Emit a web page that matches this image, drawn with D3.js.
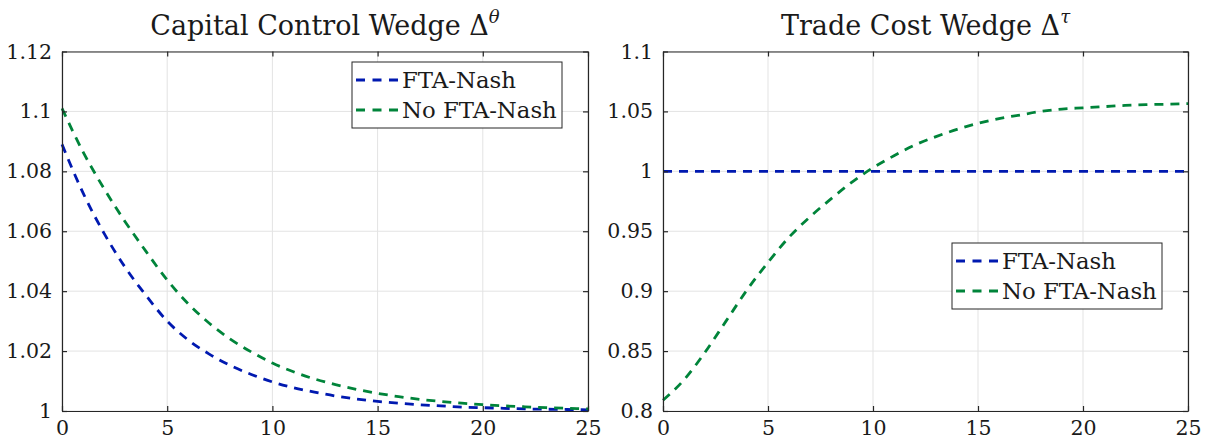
<!DOCTYPE html>
<html>
<head>
<meta charset="utf-8">
<script src="https://cdn.jsdelivr.net/npm/d3@7"></script>
<style>
  body { margin: 0; background: #fff; }
  svg text { font-family: "DejaVu Serif", serif; fill: #1a1a1a; }
</style>
</head>
<body>
<svg id="chart" width="1214" height="446"></svg>
<script>
// periods 0..25
var periods = d3.range(0, 26);

// capital control wedge
var capFta = [1.089, 1.0728, 1.0593, 1.048, 1.0385, 1.0300, 1.0237, 1.019, 1.0152, 1.0122,
    1.0097, 1.0078, 1.0063, 1.005, 1.004, 1.0032, 1.0026, 1.0021, 1.0017, 1.0013,
    1.0011, 1.0009, 1.0007, 1.0006, 1.0005, 1.0004];
var capNoFta = [1.101, 1.0865, 1.0742, 1.0632, 1.0532, 1.0437, 1.0358, 1.0293, 1.024, 1.0197,
    1.016, 1.0131, 1.0107, 1.0088, 1.0072, 1.0059, 1.0048, 1.0039, 1.0032, 1.0026,
    1.0021, 1.0017, 1.0014, 1.0011, 1.0009, 1.0007];

// trade cost wedge
var tradeFta = [1, 1, 1, 1, 1, 1, 1, 1, 1, 1, 1, 1, 1, 1, 1, 1, 1, 1, 1, 1, 1, 1, 1, 1, 1, 1];
var tradeNoFta = [0.809, 0.826, 0.849, 0.875, 0.901, 0.924, 0.945, 0.962, 0.977, 0.991,
    1.003, 1.013, 1.022, 1.029, 1.035, 1.040, 1.044, 1.047, 1.050, 1.052,
    1.053, 1.054, 1.055, 1.0557, 1.056, 1.0565];

var xTicks = [0, 5, 10, 15, 20, 25];
var capTicks = [1, 1.02, 1.04, 1.06, 1.08, 1.1, 1.12];
var tradeTicks = [0.8, 0.85, 0.9, 0.95, 1, 1.05, 1.1];
var seriesNames = ["FTA-Nash", "No FTA-Nash"];
var seriesColors = ["#0019b0", "#00843a"];

var svg = d3.select( "#chart" );

function panel( opts ) {
    var g = svg.append( "g" );
    var x = d3.scaleLinear().domain( [0, 25] ).range( [opts.left, opts.right] );
    var y = d3.scaleLinear().domain( opts.yDomain ).range( [opts.bottom, opts.top] );
    var fmt = function ( d ) { return String( +d.toFixed( 2 ) ); };

    // grid
    g.append( "g" ).selectAll( "line" ).data( xTicks ).enter().append( "line" )
        .attr( "x1", x ).attr( "x2", x ).attr( "y1", opts.top ).attr( "y2", opts.bottom )
        .attr( "stroke", "#e3e3e3" ).attr( "stroke-width", 1 );
    g.append( "g" ).selectAll( "line" ).data( opts.yTicks ).enter().append( "line" )
        .attr( "y1", y ).attr( "y2", y ).attr( "x1", opts.left ).attr( "x2", opts.right )
        .attr( "stroke", "#e3e3e3" ).attr( "stroke-width", 1 );

    // lines
    var line = d3.line()
        .curve( d3.curveMonotoneX )
        .x( function ( d, i ) { return x( periods[ i ] ); } )
        .y( function ( d ) { return y( d ); } );
    opts.series.forEach( function ( s, i ) {
        g.append( "path" )
            .attr( "d", line( s ) )
            .attr( "fill", "none" )
            .attr( "stroke", seriesColors[ i ] )
            .attr( "stroke-width", 2.8 )
            .attr( "stroke-dasharray", "9,7" );
    });

    // axes: bottom/left with labels, top/right as box; ticks point inward
    g.append( "g" ).attr( "transform", "translate(0," + opts.bottom + ")" )
        .call( d3.axisBottom( x ).tickValues( xTicks ).tickSizeInner( -5 ).tickSizeOuter( 0 ).tickPadding( 9 ) );
    g.append( "g" ).attr( "transform", "translate(0," + opts.top + ")" )
        .call( d3.axisTop( x ).tickValues( xTicks ).tickSizeInner( -5 ).tickSizeOuter( 0 ).tickFormat( "" ) );
    g.append( "g" ).attr( "transform", "translate(" + opts.left + ",0)" )
        .call( d3.axisLeft( y ).tickValues( opts.yTicks ).tickFormat( fmt ).tickSizeInner( -5 ).tickSizeOuter( 0 ).tickPadding( 10 ) );
    g.append( "g" ).attr( "transform", "translate(" + opts.right + ",0)" )
        .call( d3.axisRight( y ).tickValues( opts.yTicks ).tickSizeInner( -5 ).tickSizeOuter( 0 ).tickFormat( "" ) );

    g.selectAll( ".domain" ).attr( "stroke", "#262626" ).attr( "stroke-width", 1.2 );
    g.selectAll( ".tick line" ).attr( "stroke", "#262626" ).attr( "stroke-width", 1.2 );
    g.selectAll( ".tick text" ).attr( "font-size", 20.5 ).attr( "fill", "#1a1a1a" )
        .attr( "font-family", "DejaVu Serif, serif" );

    // title
    var t = g.append( "text" )
        .attr( "x", ( opts.left + opts.right ) / 2 )
        .attr( "y", 35 )
        .attr( "text-anchor", "middle" )
        .attr( "font-size", 27 );
    t.append( "tspan" ).text( opts.title + " \u0394" );
    t.append( "tspan" ).attr( "dy", -12 ).attr( "font-size", 18 )
        .attr( "font-style", "italic" ).text( opts.sup );

    // legend
    var lg = g.append( "g" ).attr( "transform", "translate(" + opts.legend[ 0 ] + "," + opts.legend[ 1 ] + ")" );
    lg.append( "rect" ).attr( "width", 210 ).attr( "height", 66 )
        .attr( "fill", "#fff" ).attr( "stroke", "#262626" ).attr( "stroke-width", 1 );
    seriesNames.forEach( function ( name, i ) {
        var cy = 18 + i * 30;
        lg.append( "line" ).attr( "x1", 4 ).attr( "x2", 46 ).attr( "y1", cy ).attr( "y2", cy )
            .attr( "stroke", seriesColors[ i ] ).attr( "stroke-width", 2.8 )
            .attr( "stroke-dasharray", "9,7.5" );
        lg.append( "text" ).attr( "x", 50 ).attr( "y", cy + 8 )
            .attr( "font-size", 22.8 ).text( name );
    });
}

panel({
    left: 62, right: 588, top: 51.5, bottom: 411,
    yDomain: [1, 1.12], yTicks: capTicks,
    series: [capFta, capNoFta],
    title: "Capital Control Wedge", sup: "\u03b8",
    legend: [352, 62]
});

panel({
    left: 663, right: 1188, top: 51.5, bottom: 411,
    yDomain: [0.8, 1.1], yTicks: tradeTicks,
    series: [tradeFta, tradeNoFta],
    title: "Trade Cost Wedge", sup: "\u03c4",
    legend: [952, 243]
});
</script>
</body>
</html>
